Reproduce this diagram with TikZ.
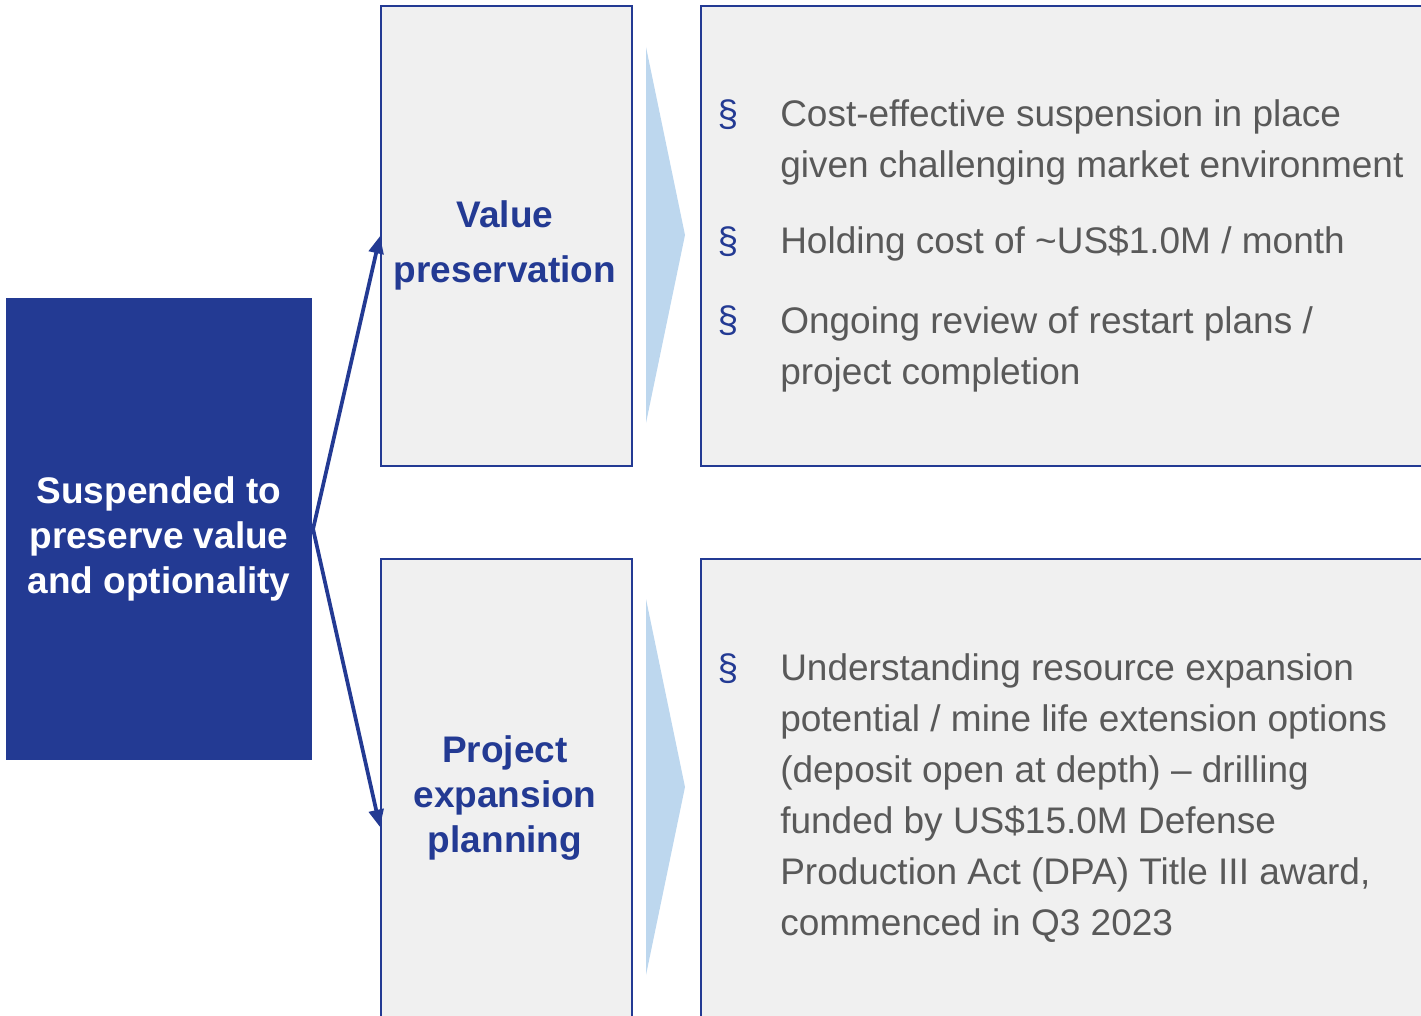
\documentclass[tikz,border=0pt]{standalone}
\usepackage{fontspec}
\setmainfont{Liberation Sans}
\usetikzlibrary{positioning,arrows.meta}
\definecolor{navy}{RGB}{35,58,147}
\definecolor{panel}{RGB}{240,240,240}
\definecolor{chevron}{RGB}{189,215,238}
\definecolor{bodygray}{RGB}{89,89,89}
\tikzset{
  basic/.style   = {draw=navy, line width=1.6pt, fill=panel, inner sep=0pt, anchor=north west, rectangle},
  root/.style    = {basic, draw=none, fill=navy, anchor=center,
                    minimum width=229.5pt, minimum height=346.5pt},
  rootlbl/.style = {text=white, align=center, font=\bfseries\fontsize{27.75}{33.75}\selectfont},
  stage/.style   = {basic, minimum width=188.25pt},
  detail/.style  = {basic, minimum width=555pt},
  caption/.style = {text=navy, align=center, font=\bfseries\fontsize{27.75}{#1}\selectfont},
  bullet/.style  = {text=navy, anchor=base, inner sep=0pt, font=\fontsize{27.75}{38.25}\selectfont},
  item/.style    = {text=bodygray, anchor=base west, inner sep=0pt, align=left,
                    font=\fontsize{27.75}{38.25}\selectfont},
  conn/.style    = {draw=navy, line width=2.8pt, -{Triangle[length=13pt,width=11pt]}}
}
\begin{document}
\begin{tikzpicture}[x=0.75pt, y=-0.75pt]
    \useasboundingbox (0,0) rectangle (1421,1016);
    \clip (0,0) rectangle (1421,1016);
    % left block
    \node [root] (suspend) at (159,529) {};
    \node [rootlbl] (suspendlbl) at (159,539) {Suspended to\\preserve value\\and optionality};
    % middle stages
    \node [stage, minimum height=345pt] (valuebox) at (380,5) {};
    \node [stage, minimum height=402pt] (projbox) at (380,558) {};
    \node [caption=41.25pt] (valuelbl) at (505,245) {Value\\preservation};
    \node [caption=33.75pt] (projlbl) at (505,798) {Project\\expansion\\planning};
    \draw [conn] (suspend.east) -- (valuebox.west);
    \draw [conn] (suspend.east) -- (projbox.west);
    % chevrons
    \fill [chevron] (646,47) -- (685,235) -- (646,423) -- cycle;
    \fill [chevron] (646,599) -- (685,787) -- (646,975) -- cycle;
    % detail panels (multi-line items sit on their last baseline)
    \node [detail, minimum height=345pt] (valuedetail) at (700,5) {};
    \node [detail, minimum height=402pt] (projdetail) at (700,558) {};
    \node [bullet] (b1) at (728,127) {§};
    \node [item] (t1) at (780,178) {Cost-effective suspension in place\\given challenging market environment};
    \node [bullet] (b2) at (728,254) {§};
    \node [item] (t2) at (780,254) {Holding cost of \textasciitilde US\$1.0M / month};
    \node [bullet] (b3) at (728,333) {§};
    \node [item] (t3) at (780,384) {Ongoing review of restart plans /\\project completion};
    \node [bullet] (b4) at (728,680) {§};
    \node [item] (t4) at (780,935) {Understanding resource expansion\\potential / mine life extension options\\(deposit open at depth) – drilling\\funded by US\$15.0M Defense\\Production Act (DPA) Title III award,\\commenced in Q3 2023};
\end{tikzpicture}
\end{document}
